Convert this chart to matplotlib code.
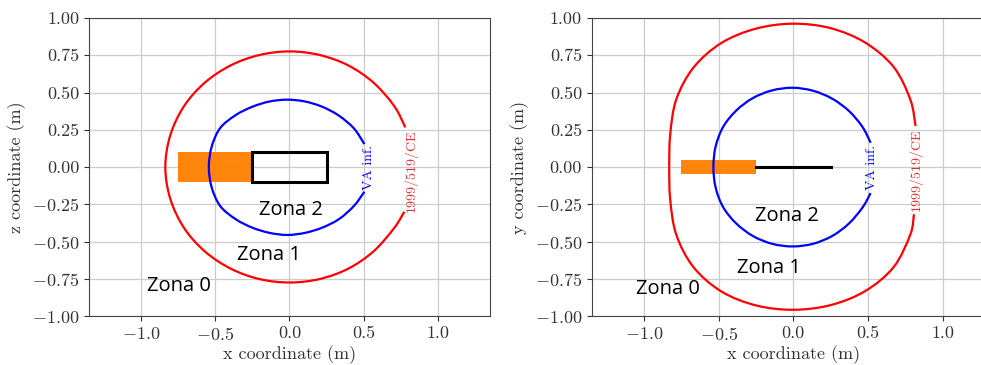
import matplotlib
matplotlib.use("Agg")
import numpy as np
import matplotlib.pyplot as plt
from matplotlib.patches import Rectangle, PathPatch
from matplotlib.path import Path

plt.rcParams["font.family"] = "serif"
plt.rcParams["font.serif"] = ["cmr10"]
plt.rcParams["mathtext.fontset"] = "cm"
plt.rcParams["axes.formatter.use_mathtext"] = True

# contour lines (x, y), starting at the upper label gap
# left plot (x-z plane)
red_xz_x = [0.780, 0.706, 0.566, 0.394, 0.202, 0.0, -0.202, -0.394, -0.568, -0.709, -0.802,
            -0.836, -0.802, -0.709, -0.568, -0.394, -0.202, 0.0, 0.202, 0.394, 0.566, 0.706,
            0.773]
red_xz_y = [0.266, 0.408, 0.566, 0.683, 0.752, 0.776, 0.752, 0.683, 0.568, 0.410, 0.215,
            0.0, -0.215, -0.410, -0.568, -0.683, -0.752, -0.775, -0.752, -0.683, -0.566, -0.408,
            -0.300]
blue_xz_x = [0.504, 0.434, 0.331, 0.219, 0.103, -0.015, -0.133, -0.249, -0.363, -0.467, -0.524,
             -0.543, -0.524, -0.467, -0.364, -0.250, -0.134, -0.015, 0.104, 0.220, 0.334, 0.435,
             0.504]
blue_xz_y = [0.154, 0.259, 0.346, 0.405, 0.440, 0.452, 0.440, 0.405, 0.348, 0.261, 0.136,
             0.0, -0.136, -0.261, -0.349, -0.407, -0.442, -0.456, -0.442, -0.407, -0.349, -0.260,
             -0.166]

# right plot (x-y plane)
red_xy_x = [0.819, 0.784, 0.672, 0.482, 0.250, 0.0, -0.249, -0.481, -0.668, -0.784, -0.824,
            -0.831, -0.824, -0.784, -0.670, -0.482, -0.249, 0.0, 0.249, 0.481, 0.672, 0.784,
            0.808]
red_xy_y = [0.275, 0.453, 0.672, 0.835, 0.932, 0.962, 0.929, 0.833, 0.668, 0.453, 0.221,
            0.0, -0.221, -0.453, -0.670, -0.835, -0.929, -0.958, -0.927, -0.833, -0.672, -0.453,
            -0.317]
blue_xy_x = [0.518, 0.463, 0.372, 0.260, 0.132, -0.005, -0.143, -0.272, -0.383, -0.470, -0.520,
             -0.535, -0.520, -0.470, -0.383, -0.272, -0.143, -0.005, 0.133, 0.262, 0.374, 0.465,
             0.518]
blue_xy_y = [0.163, 0.270, 0.377, 0.459, 0.512, 0.532, 0.514, 0.462, 0.378, 0.269, 0.138,
             0.0, -0.138, -0.269, -0.378, -0.462, -0.515, -0.533, -0.515, -0.462, -0.378, -0.270,
             -0.175]

# source (orange) and antenna (black), [x0, x1, y0, y1]
source_xz = [-0.75, -0.25, -0.1, 0.1]
antenna_xz = [-0.25, 0.25, -0.1, 0.1]
source_xy = [-0.75, -0.25, -0.05, 0.05]
antenna_xy = [-0.25, 0.25, 0.0, 0.0]

# contour labels
label_blue = "VA inf."
label_red = "1999/519/CE"
labels_xz = [(0.535, -0.005), (0.818, -0.026)]
labels_xy = [(0.529, -0.005), (0.82, -0.018)]

zones = ["Zona 2", "Zona 1", "Zona 0"]
zones_xz = [(0.01, -0.29), (-0.14, -0.59), (-0.745, -0.80)]
zones_xy = [(-0.04, -0.33), (-0.16, -0.68), (-0.84, -0.82)]

xticks = [-1.0, -0.5, 0.0, 0.5, 1.0]
yticks = [-1.0, -0.75, -0.5, -0.25, 0.0, 0.25, 0.5, 0.75, 1.0]


def smooth_path(xs, ys):
    # cubic bezier segments through the read points
    p = np.column_stack([xs, ys])
    ext = np.vstack([p[0], p, p[-1]])
    verts = [p[0]]
    codes = [Path.MOVETO]
    for i in range(len(p) - 1):
        a, b, c, d = ext[i], ext[i + 1], ext[i + 2], ext[i + 3]
        verts += [b + (c - a) / 6, c - (d - b) / 6, c]
        codes += [Path.CURVE4] * 3
    return Path(verts, codes)


fig = plt.figure(figsize=(9.81, 3.65), dpi=100)
ax1 = fig.add_axes([0.0907, 0.1342, 0.4088, 0.8164])
ax2 = fig.add_axes([0.6032, 0.1342, 0.4109, 0.8164])


def draw(ax, rx, ry, bx, by, src, ant, labs, zpos, ylabel, bar):
    ax.add_patch(PathPatch(smooth_path(rx, ry), facecolor="none", edgecolor="red",
                           lw=1.6, zorder=3))
    ax.add_patch(PathPatch(smooth_path(bx, by), facecolor="none", edgecolor="blue",
                           lw=1.6, zorder=3))
    ax.add_patch(Rectangle((src[0], src[2]), src[1] - src[0], src[3] - src[2],
                           facecolor="#ff8000", edgecolor="none", alpha=0.95, zorder=2))
    if bar:
        ax.plot([ant[0], ant[1]], [ant[2], ant[3]], color="black", lw=2.2, zorder=4)
    else:
        ax.add_patch(Rectangle((ant[0], ant[2]), ant[1] - ant[0], ant[3] - ant[2],
                               facecolor="none", edgecolor="black", lw=2.2, zorder=4))
    ax.text(labs[0][0], labs[0][1], label_blue, color="blue", fontsize=10,
            rotation=90, ha="center", va="center", zorder=5)
    ax.text(labs[1][0], labs[1][1], label_red, color="#e03030", fontsize=10,
            rotation=90, ha="center", va="center", zorder=5)
    for z, (zx, zy) in zip(zones, zpos):
        ax.text(zx, zy, z, fontsize=14.5, family="Open Sans", color="black",
                ha="center", va="center", zorder=6)
    ax.set_xlim(-1.35, 1.35)
    ax.set_ylim(-1.0, 1.0)
    ax.set_xticks(xticks)
    ax.set_yticks(yticks)
    ax.set_xticklabels(["$%.1f$" % t if t < 0 else "%.1f" % t for t in xticks])
    ax.set_yticklabels(["$%.2f$" % t if t < 0 else "%.2f" % t for t in yticks])
    ax.tick_params(labelsize=13, colors="#333333", length=3.5)
    ax.grid(True, color="#cccccc", lw=0.9)
    ax.set_axisbelow(True)
    for s in ax.spines.values():
        s.set_color("#444444")
    ax.set_xlabel("x coordinate (m)", fontsize=13, color="#333333", labelpad=2)
    ax.set_ylabel(ylabel, fontsize=13, color="#333333")


draw(ax1, red_xz_x, red_xz_y, blue_xz_x, blue_xz_y, source_xz, antenna_xz,
     labels_xz, zones_xz, "z coordinate (m)", False)
draw(ax2, red_xy_x, red_xy_y, blue_xy_x, blue_xy_y, source_xy, antenna_xy,
     labels_xy, zones_xy, "y coordinate (m)", True)

plt.savefig("out.png", dpi=100)
